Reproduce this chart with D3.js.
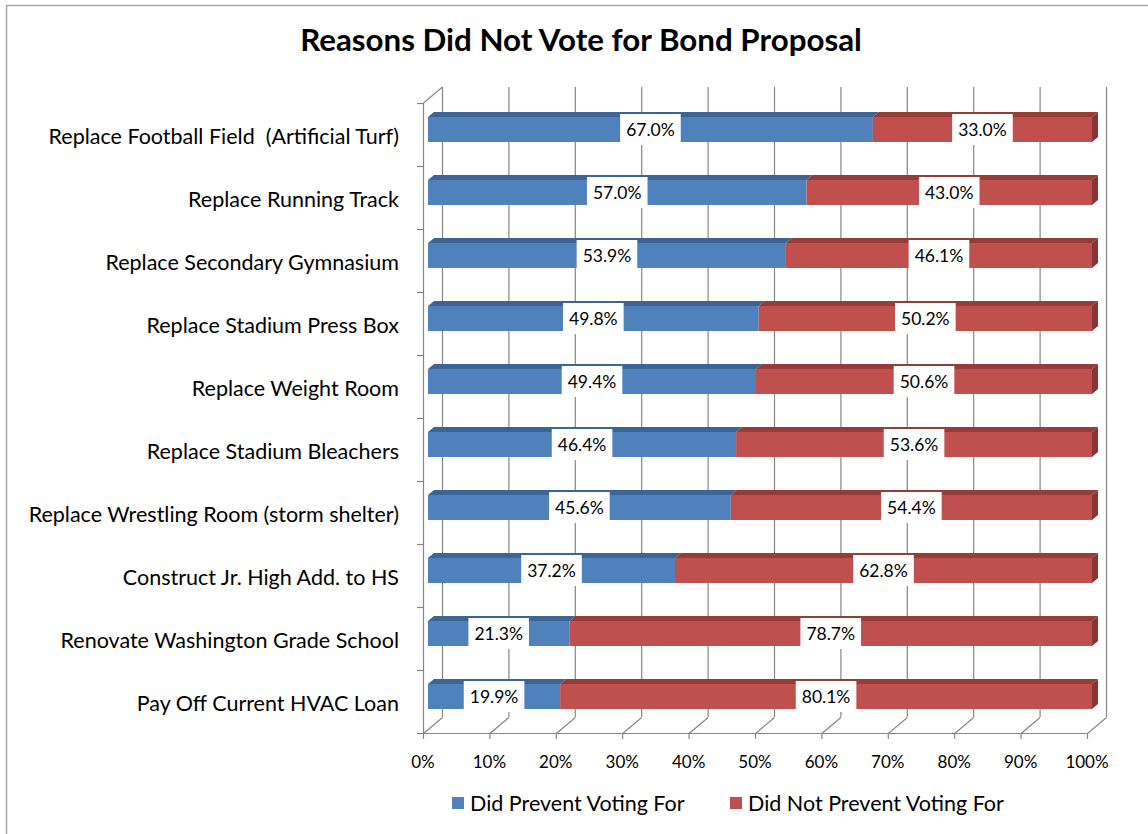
<!DOCTYPE html>
<html>
<head>
<meta charset="utf-8">
<script src="https://cdn.jsdelivr.net/npm/d3@7"></script>
<style>
  body { margin: 0; background: #fff; }
  svg { display: block; font-family: Lato, "Open Sans", sans-serif; }
</style>
</head>
<body>
<div class="chart"></div>
<script>
var categories = [
  "Replace Football Field  (Artificial Turf)",
  "Replace Running Track",
  "Replace Secondary Gymnasium",
  "Replace Stadium Press Box",
  "Replace Weight Room",
  "Replace Stadium Bleachers",
  "Replace Wrestling Room (storm shelter)",
  "Construct Jr. High Add. to HS",
  "Renovate Washington Grade School",
  "Pay Off Current HVAC Loan"
];
var didPrevent    = [67.0, 57.0, 53.9, 49.8, 49.4, 46.4, 45.6, 37.2, 21.3, 19.9];
var didNotPrevent = [33.0, 43.0, 46.1, 50.2, 50.6, 53.6, 54.4, 62.8, 78.7, 80.1];
var seriesNames = ["Did Prevent Voting For", "Did Not Prevent Voting For"];
var xTicks = [0, 10, 20, 30, 40, 50, 60, 70, 80, 90, 100];

var W = 1148, H = 834;
var colors = {
  front: ["#4f81bd", "#c0504d"],
  top:   ["#3d6594", "#963d3a"],
  side:  ["#8c3431", "#8c3431"]
};

// plot box (front plane) and 3d depth offset
var plot = {left: 423, right: 1087, top: 103, bottom: 733};
var depth = {dx: 19, dy: -16};
var barOff = {dx: 5, dy: -5};   // bar front face offset into depth
var barDepth = {dx: 6, dy: -5};
var barH = 25;

var svg = d3.select(".chart").append("svg")
  .attr("width", W)
  .attr("height", H);

// outer frame
svg.append("rect")
  .attr("x", 6.5).attr("y", 5.5)
  .attr("width", W + 10).attr("height", H + 10)
  .attr("fill", "none")
  .attr("stroke", "#a6a6a6")
  .attr("stroke-width", 1.5);

svg.append("text")
  .attr("x", 581).attr("y", 51)
  .attr("text-anchor", "middle")
  .style("font-weight", "bold")
  .style("font-size", "31.3px")
  .text("Reasons Did Not Vote for Bond Proposal");

var x = d3.scaleLinear().domain([0, 100]).range([plot.left, plot.right]);
var y = d3.scaleBand().domain(categories).range([plot.top, plot.bottom]);

var grid = svg.append("g")
  .attr("stroke", "#868686")
  .attr("stroke-width", 1.2)
  .attr("fill", "none");

// back wall gridlines
grid.selectAll(".vg").data(xTicks).enter().append("line")
  .attr("x1", d => x(d) + depth.dx + 0.5).attr("x2", d => x(d) + depth.dx + 0.5)
  .attr("y1", plot.top + depth.dy).attr("y2", plot.bottom + depth.dy);

// floor diagonals
grid.selectAll(".fg").data(xTicks).enter().append("line")
  .attr("x1", d => x(d) + 0.5).attr("y1", plot.bottom + 0.5)
  .attr("x2", d => x(d) + depth.dx + 0.5).attr("y2", plot.bottom + depth.dy + 0.5);

// front floor edge and left wall edge
grid.append("line")
  .attr("x1", plot.left).attr("x2", plot.right)
  .attr("y1", plot.bottom + 0.5).attr("y2", plot.bottom + 0.5);
grid.append("line")
  .attr("x1", plot.left + 0.5).attr("x2", plot.left + 0.5)
  .attr("y1", plot.top).attr("y2", plot.bottom);
grid.append("line")
  .attr("x1", plot.left + 0.5).attr("y1", plot.top)
  .attr("x2", plot.left + depth.dx + 0.5).attr("y2", plot.top + depth.dy);

// x tick marks
grid.selectAll(".xt").data(xTicks).enter().append("line")
  .attr("x1", d => x(d) + 0.5).attr("x2", d => x(d) + 0.5)
  .attr("y1", plot.bottom).attr("y2", plot.bottom + 6);

// category tick marks on left wall
var yEdges = categories.map(c => y(c)).concat([plot.bottom]);
grid.selectAll(".yt").data(yEdges).enter().append("line")
  .attr("x1", plot.left - 6).attr("x2", plot.left)
  .attr("y1", d => d + 0.5).attr("y2", d => d + 0.5);

// x tick labels
svg.selectAll(".xl").data(xTicks).enter().append("text")
  .attr("x", d => x(d))
  .attr("y", 768)
  .attr("text-anchor", "middle")
  .style("font-size", "17px")
  .text(d => d + "%");

// category labels
svg.selectAll(".cl").data(categories).enter().append("text")
  .attr("x", 399)
  .attr("y", d => y(d) + y.bandwidth() / 2 + 2)
  .attr("dy", "0.35em")
  .attr("text-anchor", "end")
  .style("font-size", "21.5px")
  .style("white-space", "pre")
  .text(d => d);

// bars
var rows = categories.map(function(c, i) {
  return {cat: c, segs: [
    {s: 0, a: 0, b: didPrevent[i]},
    {s: 1, a: didPrevent[i], b: didPrevent[i] + didNotPrevent[i]}
  ]};
});

var xb = d => x(d) + barOff.dx;

var bars = svg.selectAll(".bar").data(rows).enter().append("g")
  .attr("class", "bar")
  .attr("transform", d => "translate(0," + (y(d.cat) + (y.bandwidth() - barH) / 2 + barOff.dy) + ")");

bars.each(function(d) {
  var g = d3.select(this);
  d.segs.forEach(function(s) {
    var x0 = xb(s.a), x1 = xb(s.b);
    g.append("path")
      .attr("d", "M" + x0 + ",0L" + x1 + ",0L" + (x1 + barDepth.dx) + "," + barDepth.dy +
                 "L" + (x0 + barDepth.dx) + "," + barDepth.dy + "Z")
      .attr("fill", colors.top[s.s]);
    g.append("rect")
      .attr("x", x0).attr("y", 0)
      .attr("width", x1 - x0).attr("height", barH)
      .attr("fill", colors.front[s.s]);
  });
  var xe = xb(d.segs[1].b);
  g.append("path")
    .attr("d", "M" + xe + ",0L" + (xe + barDepth.dx) + "," + barDepth.dy +
               "L" + (xe + barDepth.dx) + "," + (barH + barDepth.dy) + "L" + xe + "," + barH + "Z")
    .attr("fill", colors.side[1]);

  // value labels
  d.segs.forEach(function(s) {
    var cx = (xb(s.a) + xb(s.b)) / 2;
    var lab = g.append("g");
    var t = lab.append("text")
      .attr("x", cx).attr("y", barH / 2)
      .attr("dy", "0.35em")
      .attr("text-anchor", "middle")
      .style("font-size", "17.5px")
      .text(d3.format(".1f")(s.b - s.a) + "%");
    var bb = t.node().getBBox();
    lab.insert("rect", "text")
      .attr("x", cx - (bb.width + 12) / 2).attr("y", barH / 2 - 15.5)
      .attr("width", bb.width + 12).attr("height", 31)
      .attr("fill", "#fff");
  });
});

// legend
var legend = svg.append("g").attr("transform", "translate(0,803)");
var legX = [452, 730];
seriesNames.forEach(function(n, i) {
  legend.append("rect")
    .attr("x", legX[i]).attr("y", -6)
    .attr("width", 12).attr("height", 12)
    .attr("fill", colors.front[i]);
  legend.append("text")
    .attr("x", legX[i] + 18).attr("y", 0)
    .attr("dy", "0.35em")
    .style("font-size", "21.5px")
    .text(n);
});
</script>
</body>
</html>
